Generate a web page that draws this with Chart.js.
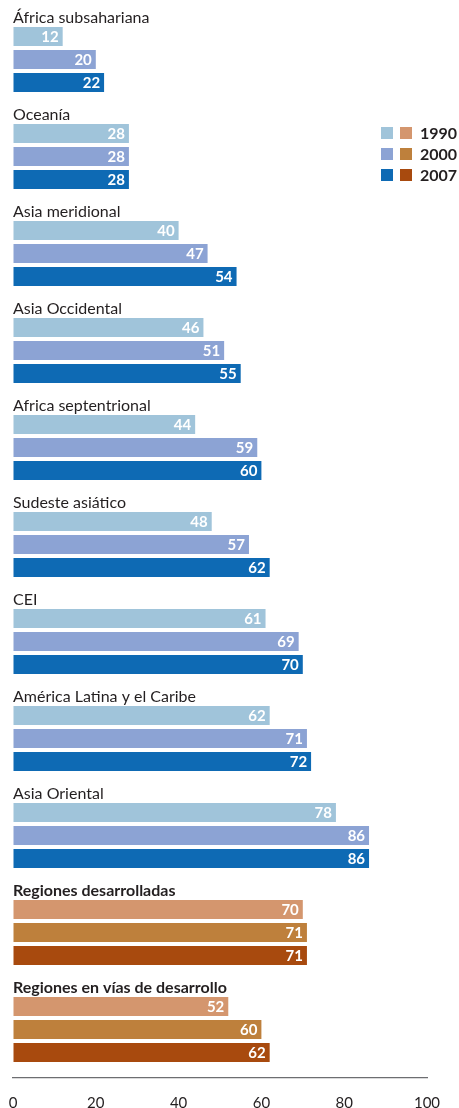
<!DOCTYPE html>
<html>
<head>
<meta charset="utf-8">
<script src="https://cdn.jsdelivr.net/npm/chart.js@4"></script>
<style>
  html, body { margin: 0; padding: 0; background: #fff; }
  #wrap { width: 459px; height: 1108px; }
</style>
</head>
<body>
<div id="wrap"><canvas id="chart"></canvas></div>
<script>
const regions = [
  "África subsahariana", "Oceanía", "Asia meridional", "Asia Occidental",
  "Africa septentrional", "Sudeste asiático", "CEI", "América Latina y el Caribe",
  "Asia Oriental", "Regiones desarrolladas", "Regiones en vías de desarrollo"
];
const years = ["1990", "2000", "2007"];
const v1990 = [12, 28, 40, 46, 44, 48, 61, 62, 78, 70, 52];
const v2000 = [20, 28, 47, 51, 59, 57, 69, 71, 86, 71, 60];
const v2007 = [22, 28, 54, 55, 60, 62, 70, 72, 86, 71, 62];
const xTicks = [0, 20, 40, 60, 80, 100];
const boldRegions = ["Regiones desarrolladas", "Regiones en vías de desarrollo"];

const blues = ["#a0c4da", "#8ca3d4", "#0e6ab4"];
const browns = ["#d4966e", "#be803c", "#a84a0e"];
const FONT = "Lato, 'Open Sans', sans-serif";
const TEXT = "#231f20";

function colorsFor(i) {
  return regions.map(r => boldRegions.includes(r) ? browns[i] : blues[i]);
}

const groupLabels = {
  id: "groupLabels",
  afterDatasetsDraw(chart) {
    const { ctx, scales: { y }, chartArea } = chart;
    ctx.save();
    ctx.fillStyle = TEXT;
    ctx.textAlign = "left";
    ctx.textBaseline = "middle";
    regions.forEach((r, i) => {
      ctx.font = (boldRegions.includes(r) ? "bold 16px " : "16px ") + FONT;
      ctx.fillText(r, chartArea.left, y.getPixelForValue(i) - 41.5);
    });
    // values inside bars
    ctx.fillStyle = "#fff";
    ctx.textAlign = "right";
    ctx.font = "bold 15px " + FONT;
    chart.data.datasets.forEach((ds, d) => {
      chart.getDatasetMeta(d).data.forEach((bar, i) => {
        ctx.fillText(String(ds.data[i]), bar.x - 4, bar.y + 1);
      });
    });
    ctx.restore();
  }
};

const twinLegend = {
  id: "twinLegend",
  afterDraw(chart) {
    const { ctx } = chart;
    ctx.save();
    ctx.textBaseline = "middle";
    ctx.textAlign = "left";
    ctx.font = "bold 16px " + FONT;
    years.forEach((yr, i) => {
      const cy = 133 + i * 21;
      ctx.fillStyle = blues[i];
      ctx.fillRect(381, cy - 6, 12, 12);
      ctx.fillStyle = browns[i];
      ctx.fillRect(400, cy - 6, 12, 12);
      ctx.fillStyle = TEXT;
      ctx.fillText(yr, 420, cy + 1);
    });
    ctx.restore();
  }
};

new Chart(document.getElementById("chart"), {
  type: "bar",
  data: {
    labels: regions,
    datasets: [
      { label: years[0], data: v1990, backgroundColor: colorsFor(0) },
      { label: years[1], data: v2000, backgroundColor: colorsFor(1) },
      { label: years[2], data: v2007, backgroundColor: colorsFor(2) },
    ],
  },
  options: {
    indexAxis: "y",
    responsive: true,
    maintainAspectRatio: false,
    animation: false,
    layout: { padding: { left: 13, right: 32, top: 11, bottom: 0 } },
    datasets: { bar: { categoryPercentage: 69 / 97, barPercentage: 0.82 } },
    plugins: { legend: { display: false }, tooltip: { enabled: false } },
    scales: {
      y: { display: false },
      x: {
        min: 0,
        max: 100,
        afterBuildTicks(scale) { scale.ticks = xTicks.map(v => ({ value: v })); },
        afterFit(scale) {
          scale.height = 30;
          scale.paddingLeft = 0;
          scale.paddingRight = 0;
        },
        grid: { color: "transparent", drawTicks: false },
        border: { display: true, color: "#6d6e71", width: 1.3 },
        ticks: { padding: 16, color: TEXT, font: { family: FONT, size: 15 } },
      },
    },
  },
  plugins: [groupLabels, twinLegend],
});
</script>
</body>
</html>
